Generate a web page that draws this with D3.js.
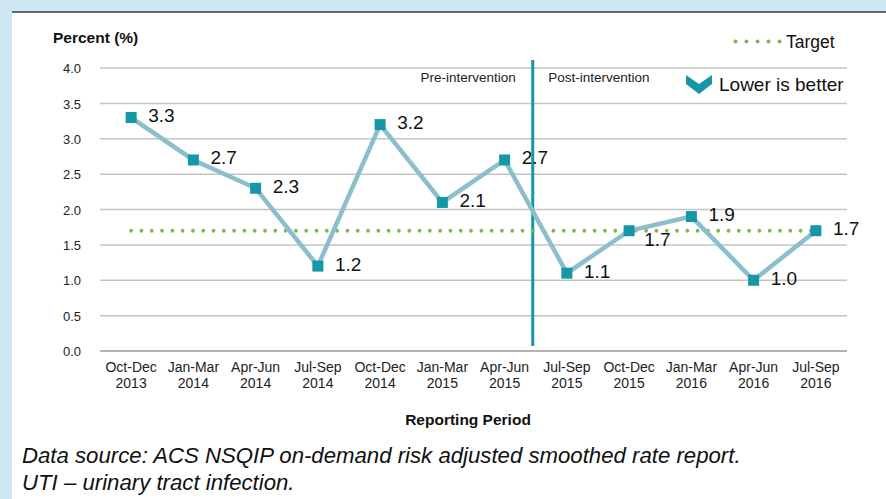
<!DOCTYPE html>
<html>
<head>
<meta charset="utf-8">
<script src="https://cdn.jsdelivr.net/npm/d3@7"></script>
<style>
  html, body { margin: 0; padding: 0; background: #cfe7f5; }
  #container { width: 886px; height: 499px; }
  svg { display: block; font-family: "Liberation Sans", Arial, Helvetica, sans-serif; }
</style>
</head>
<body>
<div id="container"></div>
<script>
// chart data
var periods = ["Oct-Dec", "Jan-Mar", "Apr-Jun", "Jul-Sep", "Oct-Dec", "Jan-Mar",
               "Apr-Jun", "Jul-Sep", "Oct-Dec", "Jan-Mar", "Apr-Jun", "Jul-Sep"];
var years = ["2013", "2014", "2014", "2014", "2014", "2015",
             "2015", "2015", "2015", "2016", "2016", "2016"];
var rates = [3.3, 2.7, 2.3, 1.2, 3.2, 2.1, 2.7, 1.1, 1.7, 1.9, 1.0, 1.7];
var yTicks = [0, 0.5, 1.0, 1.5, 2.0, 2.5, 3.0, 3.5, 4.0];
var target = 1.7;
var interventionAfter = "Apr-Jun 2015";

var teal = '#1697a6', lineCol = '#8bbfcb', green = '#7dba48';

var keys = periods.map(function(p, i) { return p + ' ' + years[i]; });
var pts = rates.map(function(v, i) { return { key: keys[i], v: v, i: i }; });

var svg = d3.select('#container').append('svg')
  .attr('width', 886).attr('height', 499);

// white panel + top rule
svg.append('rect').attr('x', 12).attr('y', 12).attr('width', 874).attr('height', 487).attr('fill', '#fff');
svg.append('line').attr('x1', 12).attr('x2', 886).attr('y1', 12).attr('y2', 12)
  .attr('stroke', '#3a3a3a').attr('stroke-width', 1.5);

var x = d3.scaleBand().domain(keys).range([100, 847]);
var y = d3.scaleLinear().domain([0, 4]).range([351, 68]);
var cx = function(k) { return x(k) + x.bandwidth() / 2; };

// gridlines
svg.append('g').selectAll('line').data(yTicks).enter().append('line')
  .attr('x1', 100).attr('x2', 847)
  .attr('y1', function(d) { return y(d); }).attr('y2', function(d) { return y(d); })
  .attr('stroke', function(d) { return d === 0 ? '#999' : '#c4c4c4'; })
  .attr('stroke-width', 1.5);

// y axis labels
var yAx = svg.append('g').attr('transform', 'translate(81,0)')
  .call(d3.axisLeft(y).tickValues(yTicks).tickSize(0).tickPadding(0).tickFormat(d3.format('.1f')));
yAx.select('.domain').remove();
yAx.selectAll('text').attr('font-size', 13).attr('fill', '#222')
  .attr('font-family', '"Liberation Sans", Arial, sans-serif').attr('dy', '0.36em');

// x axis labels (two lines)
var xAx = svg.append('g').attr('transform', 'translate(0,351)')
  .call(d3.axisBottom(x).tickSize(0).tickFormat(''));
xAx.select('.domain').remove();
xAx.selectAll('.tick text').remove();
xAx.selectAll('.tick').each(function(k, i) {
  var t = d3.select(this).append('text').attr('text-anchor', 'middle')
    .attr('font-size', 14).attr('fill', '#222')
    .attr('font-family', '"Liberation Sans", Arial, sans-serif');
  t.append('tspan').attr('x', 0).attr('y', 21).text(periods[i]);
  t.append('tspan').attr('x', 0).attr('y', 37).text(years[i]);
});

// axis titles
svg.append('text').attr('x', 53).attr('y', 43).attr('font-size', 15.5).attr('font-weight', 'bold')
  .attr('fill', '#111').text('Percent (%)');
svg.append('text').attr('x', 468).attr('y', 425).attr('text-anchor', 'middle')
  .attr('font-size', 15.5).attr('font-weight', 'bold').attr('fill', '#111').text('Reporting Period');

// intervention divider
var divX = cx(interventionAfter) + x.step() / 2 - 3;
svg.append('line').attr('x1', divX).attr('x2', divX).attr('y1', 60).attr('y2', 346)
  .attr('stroke', teal).attr('stroke-width', 3);
svg.append('text').attr('x', divX - 17).attr('y', 82).attr('text-anchor', 'end')
  .attr('font-size', 13.5).attr('fill', '#222').text('Pre-intervention');
svg.append('text').attr('x', divX + 15.5).attr('y', 82)
  .attr('font-size', 13.5).attr('fill', '#222').text('Post-intervention');

// target line
svg.append('line')
  .attr('x1', cx(keys[0])).attr('x2', cx(keys[keys.length - 1]) + 2)
  .attr('y1', y(target)).attr('y2', y(target))
  .attr('stroke', green).attr('stroke-width', 3.8).attr('stroke-linecap', 'round')
  .attr('stroke-dasharray', '0 10.3');

// series line
var line = d3.line().x(function(d) { return cx(d.key); }).y(function(d) { return y(d.v); });
svg.append('path').datum(pts).attr('d', line)
  .attr('fill', 'none').attr('stroke', lineCol).attr('stroke-width', 4.5).attr('stroke-linejoin', 'miter');

// markers
svg.append('g').selectAll('rect').data(pts).enter().append('rect')
  .attr('x', function(d) { return cx(d.key) - 5.5; })
  .attr('y', function(d) { return y(d.v) - 5.5; })
  .attr('width', 11).attr('height', 11).attr('fill', teal);

// value labels
svg.append('g').selectAll('text').data(pts).enter().append('text')
  .attr('x', function(d) {
    var below = d.v === target && d.i < pts.length - 1;
    return cx(d.key) + (below ? 15 : 17);
  })
  .attr('y', function(d) {
    var below = d.v === target && d.i < pts.length - 1;
    return y(d.v) + (below ? 15 : 4.5);
  })
  .attr('font-size', 19).attr('fill', '#111')
  .text(function(d) { return d3.format('.1f')(d.v); });

// legend: target
var lg = svg.append('g');
lg.selectAll('circle').data(d3.range(5)).enter().append('circle')
  .attr('cx', function(d) { return 735.5 + d * 11; }).attr('cy', 41.5).attr('r', 2)
  .attr('fill', green);
lg.append('text').attr('x', 786).attr('y', 47.5).attr('font-size', 17.5).attr('fill', '#111').text('Target');

// legend: lower is better
lg.append('path')
  .attr('d', 'M686,75 L699,84 L712,75 L712,84 L699,94 L686,84 Z')
  .attr('fill', teal);
lg.append('text').attr('x', 719).attr('y', 91).attr('font-size', 19).attr('fill', '#111').text('Lower is better');

// footnotes
svg.append('text').attr('x', 22).attr('y', 463).attr('font-size', 22.2).attr('font-style', 'italic')
  .attr('fill', '#111').text('Data source: ACS NSQIP on-demand risk adjusted smoothed rate report.');
svg.append('text').attr('x', 22).attr('y', 490).attr('font-size', 22.2).attr('font-style', 'italic')
  .attr('fill', '#111').text('UTI \u2013 urinary tract infection.');
</script>
</body>
</html>
